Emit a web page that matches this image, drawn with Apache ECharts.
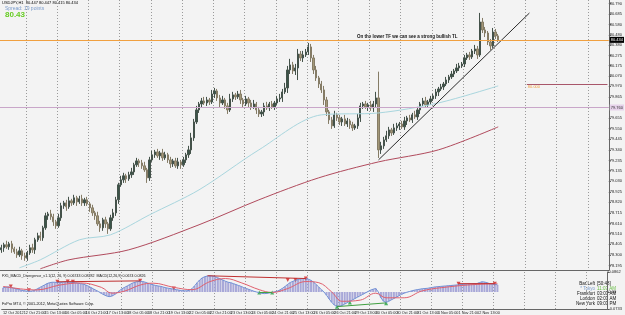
<!DOCTYPE html>
<html>
<head>
<meta charset="utf-8">
<script src="https://cdn.jsdelivr.net/npm/echarts@6/dist/echarts.min.js"></script>
<style>
  html, body { margin: 0; padding: 0; background: #f3f3f3; }
  #chart { width: 625px; height: 315px; }
</style>
</head>
<body>
<div id="chart"></div>
<script>
// time axis labels, one every 8 bars (16 hours)
var timeLabels = ['12 Oct 2012', '12 Oct 21:00', '15 Oct 13:00', '16 Oct 05:00', '16 Oct 21:00', '17 Oct 13:00',
  '18 Oct 05:00', '18 Oct 21:00', '19 Oct 13:00', '22 Oct 05:00', '22 Oct 21:00', '23 Oct 13:00',
  '24 Oct 05:00', '24 Oct 21:00', '25 Oct 13:00', '26 Oct 05:00', '26 Oct 21:00', '29 Oct 13:00',
  '30 Oct 05:00', '30 Oct 21:00', '31 Oct 13:00', '1 Nov 05:00', '1 Nov 21:00', '2 Nov 13:00'];

// price scale labels (right side)
var priceTicks = [80.790, 80.685, 80.580, 80.480, 80.380, 80.275, 80.175, 80.070, 79.970, 79.865, 79.760,
  79.655, 79.550, 79.445, 79.340, 79.235, 79.135, 79.030, 78.925, 78.820, 78.715, 78.610, 78.510,
  78.405, 78.300, 78.195];
var macdTicks = [0.0862, 0, -0.0733];

// USDJPY closes (2 hour bars)
var firstOpen = 78.35;
var closes = [
  78.370, 78.400, 78.380, 78.409, 78.360, 78.330, 78.300, 78.340, 78.291, 78.271,
  78.320, 78.370, 78.350, 78.449, 78.489, 78.469, 78.568, 78.687, 78.706, 78.677,
  78.627, 78.588, 78.667, 78.786, 78.815, 78.776, 78.835, 78.815, 78.865, 78.825,
  78.855, 78.815, 78.845, 78.805, 78.766, 78.716, 78.687, 78.607, 78.568, 78.647,
  78.607, 78.558, 78.667, 78.716, 78.845, 78.994, 79.043, 79.083, 79.053, 79.093,
  79.122, 79.192, 79.231, 79.211, 79.182, 79.142, 79.063, 79.241, 79.291, 79.320,
  79.281, 79.310, 79.261, 79.291, 79.241, 79.201, 79.231, 79.182, 79.221, 79.192,
  79.241, 79.291, 79.340, 79.459, 79.617, 79.736, 79.795, 79.825, 79.805, 79.835,
  79.815, 79.894, 79.924, 79.855, 79.805, 79.835, 79.776, 79.736, 79.845, 79.885,
  79.865, 79.894, 79.835, 79.795, 79.845, 79.805, 79.766, 79.795, 79.736, 79.696,
  79.716, 79.776, 79.756, 79.795, 79.766, 79.805, 79.845, 79.855, 79.914, 79.954,
  80.132, 80.182, 80.122, 80.152, 80.290, 80.251, 80.281, 80.310, 80.360, 80.251,
  80.132, 80.053, 79.993, 79.934, 79.835, 79.716, 79.637, 79.578, 79.687, 79.657,
  79.617, 79.647, 79.597, 79.627, 79.588, 79.558, 79.578, 79.657, 79.776, 79.795,
  79.766, 79.786, 79.756, 79.795, 79.855, 79.340, 79.380, 79.439, 79.479, 79.538,
  79.508, 79.558, 79.578, 79.597, 79.568, 79.627, 79.657, 79.637, 79.687, 79.667,
  79.736, 79.795, 79.825, 79.786, 79.815, 79.845, 79.875, 79.914, 79.944, 79.964,
  79.993, 80.033, 80.063, 80.092, 80.122, 80.152, 80.172, 80.191, 80.251, 80.281,
  80.261, 80.320, 80.340, 80.281, 80.607, 80.528, 80.498, 80.409, 80.370, 80.508,
  80.469, 80.429
];
// wick lengths above / below the body, in 0.01 yen
var wickUp = [
  3, 2, 4, 2, 3, 2, 3, 4, 2, 3,  2, 3, 4, 2, 3, 4, 2, 3, 2, 4,  3, 2, 4, 3, 2, 3, 4, 2, 3, 2,
  3, 4, 2, 3, 2, 3, 2, 4, 3, 2,  3, 2, 3, 4, 3, 2, 4, 3, 2, 3,  4, 2, 3, 2, 3, 4, 2, 3, 4, 2,
  3, 2, 4, 3, 2, 3, 2, 3, 4, 2,  3, 2, 4, 5, 3, 4, 2, 3, 4, 3,  2, 4, 3, 2, 3, 4, 2, 3, 5, 3,
  2, 3, 4, 2, 3, 2, 3, 4, 2, 3,  2, 3, 4, 2, 3, 2, 3, 4, 3, 5,  4, 6, 3, 4, 5, 3, 4, 3, 4, 3,
  3, 4, 2, 3, 4, 3, 2, 3, 4, 2,  3, 2, 4, 3, 2, 3, 2, 4, 3, 2,  3, 2, 4, 3, 6, 26, 4, 3, 5, 3,
  2, 4, 3, 2, 3, 4, 2, 3, 2, 4,  3, 2, 3, 4, 2, 3, 2, 3, 2, 3,  2, 3, 2, 3, 2, 4, 3, 2, 3, 2,
  3, 2, 4, 3, 9, 4, 3, 2, 3, 4,  3, 2
];
var wickDown = [
  3, 4, 2, 3, 4, 2, 3, 2, 4, 3,  3, 2, 3, 4, 2, 3, 3, 2, 4, 3,  4, 3, 2, 3, 3, 4, 2, 3, 2, 4,
  2, 3, 3, 2, 4, 3, 4, 2, 4, 3,  4, 5, 2, 3, 3, 4, 2, 3, 4, 2,  3, 3, 2, 4, 3, 2, 5, 3, 2, 3,
  2, 4, 3, 2, 3, 4, 3, 2, 3, 4,  2, 3, 3, 4, 3, 2, 3, 4, 2, 3,  3, 2, 4, 3, 5, 2, 3, 4, 2, 3,
  3, 2, 4, 3, 2, 4, 3, 2, 4, 3,  3, 4, 2, 3, 2, 3, 2, 3, 4, 2,  5, 4, 3, 4, 12, 3, 4, 2, 3, 4,
  4, 3, 4, 3, 5, 4, 4, 3, 2, 3,  3, 4, 2, 3, 4, 3, 2, 3, 4, 3,  2, 4, 3, 4, 3, 8, 4, 3, 2, 3,
  3, 2, 3, 4, 2, 3, 4, 2, 3, 2,  3, 4, 2, 3, 2, 3, 2, 3, 4, 2,  3, 2, 3, 2, 3, 2, 3, 2, 3, 2,
  3, 2, 3, 4, 2, 3, 4, 3, 4, 2,  3, 2
];

// moving averages, [bar, price]
var maFast = [[7, 78.172], [15, 78.251], [30, 78.449], [42, 78.499], [57, 78.697], [76, 78.944],
  [99, 79.340], [123, 79.687], [145, 79.706], [168, 79.805], [191, 79.974]];
var maSlow = [[15, 78.162], [26, 78.251], [49, 78.350], [76, 78.598], [99, 78.845], [122, 79.063],
  [145, 79.221], [168, 79.340], [191, 79.568]];

// trend line and horizontal levels
var trendLine = [[145, 79.241], [203, 80.696]];
var orangeLevel = 80.428;
var purpleLevel = 79.760;
var roundLevel = 79.995;

// MACD pane
var macd = [
  0.018, 0.020, 0.022, 0.020, 0.017, 0.014, 0.011, 0.008,
  0.006, 0.004, 0.003, 0.004, 0.006,
  0.012, 0.018, 0.024, 0.030, 0.036, 0.040, 0.042, 0.042,
  0.041, 0.040, 0.042, 0.044, 0.043, 0.042, 0.041, 0.040, 0.038, 0.036, 0.034,
  0.030, 0.025, 0.019, 0.013, 0.007, 0.001,
  -0.006, -0.012, -0.017, -0.020, -0.018,
  -0.012, -0.004, 0.006, 0.014, 0.020, 0.026,
  0.032, 0.038, 0.042, 0.045, 0.046, 0.045, 0.042,
  0.038, 0.034, 0.031, 0.028, 0.026, 0.024, 0.021, 0.018, 0.016, 0.014,
  0.012, 0.010, 0.008, 0.006, 0.005, 0.005, 0.007, 0.014,
  0.026, 0.040, 0.052, 0.061, 0.066, 0.069, 0.070, 0.069,
  0.066, 0.061, 0.056, 0.051, 0.046, 0.042, 0.040,
  0.036, 0.032, 0.028, 0.024, 0.019, 0.015, 0.011, 0.007, 0.003, 0.000,
  -0.003, -0.006, -0.007, -0.006, -0.004, -0.002, 0.001, 0.004, 0.009,
  0.016, 0.024, 0.033, 0.041, 0.046, 0.050, 0.054,
  0.057, 0.058, 0.057, 0.055, 0.050,
  0.042, 0.032, 0.021, 0.010, 0.000,
  -0.014, -0.030, -0.045, -0.056, -0.063,
  -0.062, -0.058, -0.052, -0.046, -0.040, -0.034, -0.028, -0.022, -0.016, -0.010,
  -0.004, 0.002, 0.008, 0.012, 0.015,
  0.000, -0.025, -0.040, -0.045,
  -0.040, -0.034, -0.028, -0.022, -0.016, -0.010, -0.005, -0.001, 0.002, 0.005,
  0.008, 0.010, 0.012, 0.014, 0.015, 0.016,
  0.018, 0.020, 0.022, 0.023, 0.024, 0.025, 0.026, 0.027, 0.028, 0.029, 0.030,
  0.031, 0.032, 0.033, 0.034, 0.035, 0.035, 0.036, 0.036, 0.040, 0.044,
  0.043, 0.040, 0.036, 0.034, 0.033, 0.031
];
var macdSignal = [[0, 0.024], [8, 0.012], [13, 0.009], [22, 0.030], [30, 0.039], [38, 0.020], [42, -0.005],
  [47, 0.004], [53, 0.030], [58, 0.038], [66, 0.020], [73, 0.010], [80, 0.045], [86, 0.058], [92, 0.040],
  [99, 0.010], [104, -0.002], [110, 0.015], [117, 0.045], [122, 0.040], [127, 0.000], [131, -0.040],
  [138, -0.035], [144, -0.005], [148, -0.025], [155, -0.025], [162, 0.005], [172, 0.022], [182, 0.032],
  [191, 0.036]];
var divTops = [[3, 0.024], [10, 0.008], [21, 0.044], [25, 0.045], [27, 0.044], [53, 0.048], [66, 0.015],
  [110, 0.052], [113, 0.052], [117, 0.058], [176, 0.036], [190, 0.036]];
var divBottoms = [[99, -0.002], [104, -0.002], [129, -0.064], [134, -0.045], [148, -0.048]];
var divLinesRed = [[[21, 0.044], [53, 0.048]], [[79, 0.070], [117, 0.058]], [[176, 0.036], [190, 0.036]]];
var divLinesGreen = [[[129, -0.063], [148, -0.047]], [[99, -0.002], [104, -0.002]]];

var totalBars = 234;
var cats = [];
for (var i = 0; i < totalBars; i++) cats.push(String(i));

var candles = closes.map(function (c, i) {
  var o = i ? closes[i - 1] : firstOpen;
  return [o, c, Math.min(o, c) - wickDown[i] / 100, Math.max(o, c) + wickUp[i] / 100];
});

var daySep = function (idx) { return idx >= 10 && (idx - 10) % 12 === 0; };
var tinyFont = 'Liberation Sans';

var sepLine = { show: true, interval: daySep, lineStyle: { color: '#9a9a9a', type: [1, 2], width: 1 } };

var chart = echarts.init(document.getElementById('chart'));
var option = {
  animation: false,
  backgroundColor: '#f3f3f3',
  grid: [
    { left: 0, right: 13, top: 0, height: 270 },
    { left: 0, right: 13, top: 272, height: 37 }
  ],
  xAxis: [
    {
      type: 'category', gridIndex: 0, data: cats, boundaryGap: true,
      axisLine: { show: true, onZero: false, lineStyle: { color: '#666' } },
      axisTick: { show: false }, axisLabel: { show: false },
      splitLine: sepLine
    },
    {
      type: 'category', gridIndex: 1, data: cats, boundaryGap: true,
      axisLine: { show: true, onZero: false, lineStyle: { color: '#666' } },
      axisTick: { show: false },
      axisLabel: {
        show: true, fontSize: 3.8, fontFamily: tinyFont, color: '#222', margin: 2, align: 'left',
        interval: function (idx) { return idx % 8 === 0 && idx / 8 < timeLabels.length; },
        formatter: function (v, idx) { return timeLabels[idx / 8] || ''; }
      },
      splitLine: sepLine
    }
  ],
  yAxis: [
    {
      type: 'value', gridIndex: 0, position: 'right', min: 78.15, max: 80.825,
      splitLine: { show: false },
      axisLine: { show: true, lineStyle: { color: '#666' } },
      axisTick: { show: true, length: 2, customValues: priceTicks, lineStyle: { color: '#666' } },
      axisLabel: {
        customValues: priceTicks, fontSize: 4, fontFamily: tinyFont, color: '#222', margin: 1,
        formatter: function (v) { return v.toFixed(3); }
      }
    },
    {
      type: 'value', gridIndex: 1, position: 'right', min: -0.0733, max: 0.0862,
      splitLine: { show: false },
      axisLine: { show: true, lineStyle: { color: '#666' } },
      axisTick: { show: true, length: 2, customValues: macdTicks, lineStyle: { color: '#666' } },
      axisLabel: {
        customValues: macdTicks, fontSize: 4, fontFamily: tinyFont, color: '#222', margin: 1,
        formatter: function (v) { return v === 0 ? '0.00' : v.toFixed(4); }
      }
    }
  ],
  series: [
    {
      type: 'candlestick', xAxisIndex: 0, yAxisIndex: 0, data: candles, barWidth: 1.8,
      itemStyle: { color: '#3a5448', borderColor: '#44524a', color0: '#a39878', borderColor0: '#857c66', borderWidth: 1 },
      markLine: {
        silent: true, symbol: 'none',
        data: [
          { yAxis: orangeLevel, lineStyle: { color: '#f0a040', width: 1, type: 'solid' },
            label: { show: true, position: 'end', distance: 1, formatter: '80.434', backgroundColor: '#000',
              color: '#fff', fontSize: 4, fontFamily: tinyFont, padding: [1, 1] } },
          { yAxis: purpleLevel, lineStyle: { color: '#c9a6c9', width: 1, type: 'solid' },
            label: { show: true, position: 'end', distance: 1, formatter: '79.760', backgroundColor: '#e6d2ea',
              color: '#333', fontSize: 4, fontFamily: tinyFont, padding: [1, 1] } },
          [
            { coord: [202, roundLevel], lineStyle: { color: '#a8566a', width: 1, type: 'solid' },
              label: { show: true, position: 'insideStartBottom', formatter: '80.000', color: '#f0a040',
                fontSize: 4, fontFamily: tinyFont, distance: 1 } },
            { coord: [233, roundLevel] }
          ]
        ]
      }
    },
    { type: 'line', xAxisIndex: 0, yAxisIndex: 0, data: maFast, showSymbol: false, smooth: 0.3,
      lineStyle: { color: '#a9d6de', width: 1 } },
    { type: 'line', xAxisIndex: 0, yAxisIndex: 0, data: maSlow, showSymbol: false, smooth: 0.3,
      lineStyle: { color: '#b04a5c', width: 1 } },
    { type: 'line', xAxisIndex: 0, yAxisIndex: 0, data: trendLine, showSymbol: false,
      lineStyle: { color: '#2a2a2a', width: 1 } },

    { type: 'bar', xAxisIndex: 1, yAxisIndex: 1, data: macd, barWidth: 2,
      itemStyle: { color: '#a8a8d8' } },
    { type: 'line', xAxisIndex: 1, yAxisIndex: 1, data: macd, showSymbol: false,
      lineStyle: { color: '#7090d6', width: 1 } },
    { type: 'line', xAxisIndex: 1, yAxisIndex: 1, data: macdSignal, showSymbol: false, smooth: 0.4,
      lineStyle: { color: '#e0606e', width: 1 } },
    { type: 'scatter', xAxisIndex: 1, yAxisIndex: 1, data: divTops, symbol: 'triangle', symbolRotate: 180,
      symbolSize: 4, itemStyle: { color: '#d02020' } },
    { type: 'scatter', xAxisIndex: 1, yAxisIndex: 1, data: divBottoms, symbol: 'triangle',
      symbolSize: 4, itemStyle: { color: '#20a040' } }
  ].concat(divLinesRed.map(function (seg) {
    return { type: 'line', xAxisIndex: 1, yAxisIndex: 1, data: seg, showSymbol: false,
      lineStyle: { color: '#c03030', width: 1 } };
  })).concat(divLinesGreen.map(function (seg) {
    return { type: 'line', xAxisIndex: 1, yAxisIndex: 1, data: seg, showSymbol: false,
      lineStyle: { color: '#40a040', width: 1 } };
  })),
  graphic: [
    { type: 'text', left: 2, top: 1, style: { text: 'USDJPY,H1  80.447 80.447 80.415 80.434', font: '4px "Liberation Sans"', fill: '#000' } },
    { type: 'text', left: 5, top: 6, style: { text: 'Spread: 19 points', font: '5px "Liberation Sans"', fill: '#7a9ccc' } },
    { type: 'text', left: 5, top: 11, style: { text: '80.43', font: 'bold 8px "Liberation Sans"', fill: '#66cc22' } },
    { type: 'text', left: 357, top: 34, style: { text: 'On the lower TF we can see a strong bullish TL', font: 'bold 4.5px "Liberation Sans"', fill: '#111' } },
    { type: 'text', left: 2, top: 274, style: { text: 'FX5_MACD_Divergence_v1.1(12, 26, 9) 0.06743 0.08282  MACD(12,26,9) 0.0674 0.0826', font: '3.6px "Liberation Sans"', fill: '#111' } },
    { type: 'text', left: 2, top: 302, style: { text: 'FxPro MT4, \u00a9 2001-2012, MetaQuotes Software Corp.', font: '3.8px "Liberation Sans"', fill: '#111' } },
    { type: 'text', right: 30, top: 281, style: { text: 'Bar Left', font: '4.5px "Liberation Sans"', fill: '#111', align: 'right' } },
    { type: 'text', left: 597, top: 281, style: { text: '[50:48]', font: '4.5px "Liberation Sans"', fill: '#111' } },
    { type: 'text', right: 30, top: 286, style: { text: '* Tokyo', font: '4.5px "Liberation Sans"', fill: '#7a9ccc', align: 'right' } },
    { type: 'text', left: 597, top: 286, style: { text: '11:03 AM', font: '4.5px "Liberation Sans"', fill: '#66bb44' } },
    { type: 'text', right: 30, top: 291, style: { text: 'Frankfurt', font: '4.5px "Liberation Sans"', fill: '#111', align: 'right' } },
    { type: 'text', left: 597, top: 291, style: { text: '03:03 AM', font: '4.5px "Liberation Sans"', fill: '#111' } },
    { type: 'text', right: 30, top: 296, style: { text: 'London', font: '4.5px "Liberation Sans"', fill: '#111', align: 'right' } },
    { type: 'text', left: 597, top: 296, style: { text: '02:03 AM', font: '4.5px "Liberation Sans"', fill: '#111' } },
    { type: 'text', right: 30, top: 301, style: { text: 'New York', font: '4.5px "Liberation Sans"', fill: '#111', align: 'right' } },
    { type: 'text', left: 597, top: 301, style: { text: '09:03 PM', font: '4.5px "Liberation Sans"', fill: '#111' } }
  ]
};
chart.setOption(option);
</script>
</body>
</html>
